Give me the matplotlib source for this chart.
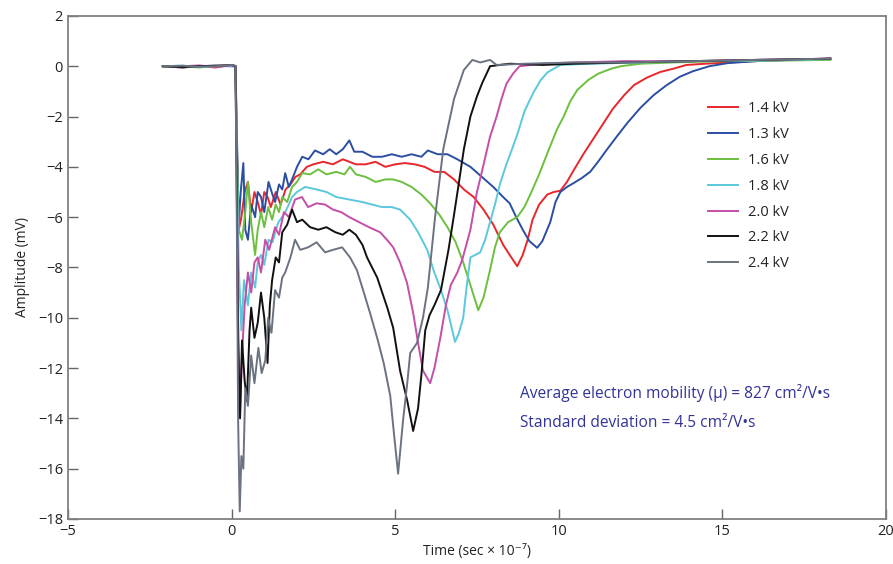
import matplotlib
matplotlib.use("Agg")
import matplotlib.pyplot as plt

plt.rcParams['font.family'] = ['Open Sans', 'DejaVu Sans']

labels = ["1.4 kV", "1.3 kV", "1.6 kV", "1.8 kV", "2.0 kV", "2.2 kV", "2.4 kV"]
colors = ["#e8262b", "#2b4ea2", "#6cbf3f", "#5bc8dc", "#c44ea8", "#111111", "#6b7280"]

kv14 = [(-2.1,0.0),(-1.5,-0.05),(-1.0,0.0),(-0.5,-0.05),(0.0,0.05),(0.12,0.0),(0.16,-3.0),(0.22,-6.5),(0.3,-6.0),(0.4,-5.0),(0.5,-4.6),(0.6,-5.8),(0.7,-5.0),(0.8,-5.4),(0.9,-5.9),(1.0,-5.0),(1.1,-5.2),(1.2,-5.6),(1.35,-5.0),(1.5,-5.5),(1.65,-4.9),(1.8,-4.7),(1.95,-4.4),(2.1,-4.3),(2.3,-4.0),(2.5,-3.9),(2.8,-3.8),(3.1,-3.9),(3.4,-3.7),(3.6,-3.8),(3.8,-3.9),(4.1,-3.9),(4.4,-3.8),(4.7,-4.0),(5.0,-3.9),(5.3,-3.85),(5.6,-3.9),(5.9,-4.0),(6.2,-4.2),(6.5,-4.2),(6.8,-4.5),(7.1,-4.9),(7.4,-5.2),(7.7,-5.7),(8.0,-6.3),(8.3,-7.1),(8.55,-7.6),(8.73,-7.95),(8.9,-7.5),(9.05,-6.9),(9.2,-6.1),(9.4,-5.5),(9.65,-5.1),(9.85,-5.0),(10.05,-4.95),(10.25,-4.6),(10.45,-4.15),(10.75,-3.5),(11.05,-2.9),(11.35,-2.3),(11.65,-1.7),(12.0,-1.15),(12.3,-0.75),(12.7,-0.45),(13.1,-0.23),(13.5,-0.1),(13.9,0.05),(14.5,0.1),(15.2,0.15),(16.0,0.2),(17.0,0.25),(18.3,0.3)]

kv13 = [(-2.1,0.0),(-1.5,-0.05),(-1.0,0.0),(-0.5,0.02),(0.0,0.0),(0.12,0.0),(0.16,-2.5),(0.22,-6.3),(0.28,-5.0),(0.36,-3.85),(0.42,-6.5),(0.5,-6.9),(0.6,-5.5),(0.72,-6.0),(0.8,-5.0),(0.9,-5.2),(1.0,-5.8),(1.13,-4.6),(1.25,-5.1),(1.33,-5.4),(1.45,-4.7),(1.55,-4.9),(1.64,-4.25),(1.75,-4.8),(1.85,-4.5),(2.0,-4.0),(2.16,-3.6),(2.35,-3.7),(2.55,-3.35),(2.8,-3.5),(3.0,-3.3),(3.2,-3.5),(3.4,-3.3),(3.6,-2.95),(3.75,-3.4),(4.0,-3.4),(4.3,-3.6),(4.6,-3.6),(4.9,-3.5),(5.2,-3.6),(5.5,-3.5),(5.8,-3.6),(6.0,-3.35),(6.3,-3.5),(6.6,-3.5),(6.9,-3.7),(7.3,-4.0),(7.65,-4.4),(8.0,-4.8),(8.3,-5.2),(8.5,-5.45),(8.7,-6.0),(8.9,-6.5),(9.1,-6.95),(9.34,-7.22),(9.5,-6.95),(9.74,-6.2),(9.9,-5.4),(10.05,-5.0),(10.25,-4.8),(10.45,-4.65),(10.7,-4.45),(10.96,-4.2),(11.2,-3.8),(11.48,-3.3),(11.8,-2.75),(12.1,-2.25),(12.5,-1.65),(12.9,-1.15),(13.3,-0.75),(13.7,-0.42),(14.1,-0.2),(14.6,0.0),(15.15,0.12),(16.0,0.2),(17.0,0.25),(18.3,0.3)]

kv16 = [(-2.1,-0.02),(-1.5,0.0),(-1.0,-0.05),(-0.5,0.0),(0.0,0.02),(0.12,0.0),(0.16,-3.0),(0.22,-6.5),(0.32,-6.9),(0.42,-5.8),(0.5,-4.6),(0.6,-6.2),(0.72,-7.5),(0.8,-6.5),(0.9,-5.8),(1.0,-6.4),(1.12,-5.6),(1.24,-6.1),(1.35,-5.5),(1.45,-5.8),(1.55,-5.2),(1.7,-5.4),(1.85,-4.8),(2.0,-4.6),(2.16,-4.25),(2.4,-4.3),(2.65,-4.1),(2.9,-4.3),(3.2,-4.2),(3.45,-4.3),(3.62,-4.0),(3.8,-4.3),(4.1,-4.4),(4.4,-4.6),(4.7,-4.5),(4.94,-4.5),(5.2,-4.6),(5.5,-4.8),(5.8,-5.1),(6.07,-5.45),(6.35,-5.9),(6.6,-6.4),(6.85,-7.0),(7.08,-7.8),(7.3,-8.7),(7.54,-9.7),(7.7,-9.2),(7.9,-8.1),(8.05,-7.2),(8.2,-6.6),(8.45,-6.2),(8.73,-6.0),(8.95,-5.6),(9.13,-5.1),(9.4,-4.3),(9.7,-3.3),(9.95,-2.5),(10.15,-2.0),(10.35,-1.4),(10.57,-0.94),(10.9,-0.55),(11.2,-0.3),(11.6,-0.1),(11.9,0.0),(12.5,0.1),(13.5,0.15),(15.0,0.2),(16.5,0.22),(18.3,0.25)]

kv18 = [(-2.1,0.0),(-1.5,0.02),(-1.0,-0.03),(-0.5,0.0),(0.0,0.0),(0.12,0.0),(0.16,-3.5),(0.22,-8.0),(0.3,-10.5),(0.38,-8.5),(0.5,-9.5),(0.6,-8.2),(0.72,-8.8),(0.8,-7.8),(0.9,-7.5),(1.0,-7.9),(1.13,-6.9),(1.25,-7.0),(1.43,-6.2),(1.6,-5.9),(1.75,-5.5),(1.85,-5.2),(2.0,-5.0),(2.25,-4.8),(2.6,-4.9),(2.9,-5.0),(3.2,-5.2),(3.6,-5.3),(4.0,-5.4),(4.3,-5.5),(4.6,-5.6),(4.9,-5.6),(5.15,-5.7),(5.46,-6.1),(5.7,-6.6),(5.98,-7.3),(6.17,-8.1),(6.4,-8.9),(6.6,-9.7),(6.83,-10.96),(6.95,-10.6),(7.08,-10.0),(7.2,-8.6),(7.3,-7.6),(7.6,-7.4),(7.75,-6.9),(7.9,-6.2),(8.05,-5.5),(8.2,-4.7),(8.4,-3.9),(8.6,-3.2),(8.75,-2.65),(8.95,-1.8),(9.22,-1.06),(9.45,-0.55),(9.65,-0.25),(10.05,0.05),(11.0,0.1),(12.5,0.15),(14.0,0.2),(16.0,0.22),(18.3,0.28)]

kv20 = [(-2.1,0.0),(-1.5,0.0),(-1.0,0.03),(-0.5,-0.02),(0.0,0.03),(0.12,0.0),(0.16,-4.0),(0.2,-10.0),(0.26,-13.8),(0.32,-11.5),(0.4,-9.5),(0.5,-8.2),(0.6,-9.0),(0.7,-7.8),(0.8,-7.6),(0.9,-8.2),(1.03,-6.9),(1.15,-7.3),(1.33,-6.4),(1.45,-6.7),(1.6,-5.8),(1.75,-6.0),(1.94,-5.3),(2.15,-5.2),(2.34,-5.6),(2.6,-5.45),(2.86,-5.5),(3.1,-5.7),(3.35,-5.8),(3.6,-6.0),(3.9,-6.2),(4.2,-6.4),(4.54,-6.6),(4.75,-6.9),(4.94,-7.2),(5.15,-7.8),(5.36,-8.6),(5.55,-9.8),(5.7,-11.0),(5.85,-12.1),(6.07,-12.6),(6.2,-12.0),(6.38,-10.8),(6.55,-9.5),(6.7,-8.7),(6.9,-8.2),(7.05,-7.7),(7.3,-6.5),(7.5,-5.0),(7.65,-4.2),(7.9,-2.8),(8.1,-2.0),(8.25,-1.3),(8.4,-0.7),(8.6,-0.3),(8.8,0.0),(9.5,0.1),(10.5,0.15),(12.0,0.2),(14.0,0.2),(16.0,0.25),(18.3,0.3)]

kv22 = [(-2.1,0.0),(-1.5,-0.03),(-1.0,0.0),(-0.5,0.02),(0.0,0.05),(0.12,0.0),(0.16,-5.0),(0.2,-11.0),(0.26,-14.0),(0.32,-10.9),(0.4,-12.5),(0.47,-13.3),(0.55,-10.5),(0.6,-9.6),(0.7,-10.8),(0.8,-10.2),(0.9,-9.0),(1.0,-10.0),(1.1,-11.8),(1.17,-9.5),(1.24,-8.5),(1.35,-7.6),(1.45,-7.8),(1.55,-6.6),(1.7,-6.3),(1.85,-5.7),(2.0,-6.2),(2.16,-6.1),(2.4,-6.4),(2.65,-6.5),(2.9,-6.4),(3.17,-6.6),(3.4,-6.7),(3.6,-6.5),(3.8,-6.7),(4.0,-7.1),(4.14,-7.6),(4.45,-8.4),(4.76,-9.6),(4.94,-10.4),(5.15,-12.1),(5.37,-13.3),(5.55,-14.5),(5.7,-13.6),(5.8,-12.3),(5.92,-10.5),(6.05,-9.9),(6.2,-9.5),(6.4,-8.9),(6.63,-7.3),(6.8,-5.9),(6.94,-4.7),(7.1,-3.3),(7.3,-2.0),(7.5,-1.2),(7.66,-0.67),(7.9,0.0),(8.5,0.1),(9.5,0.05),(10.5,0.1),(12.0,0.15),(14.0,0.2),(16.0,0.25),(18.3,0.3)]

kv24 = [(-2.1,0.0),(-1.5,0.02),(-1.0,-0.02),(-0.5,0.0),(0.0,0.05),(0.12,0.02),(0.16,-6.0),(0.2,-14.0),(0.25,-17.7),(0.3,-15.5),(0.36,-16.0),(0.42,-12.8),(0.5,-13.5),(0.6,-11.5),(0.7,-12.6),(0.82,-11.2),(0.92,-12.2),(1.03,-11.7),(1.12,-10.0),(1.22,-10.6),(1.33,-8.9),(1.45,-9.2),(1.55,-8.4),(1.64,-8.2),(1.8,-7.6),(1.94,-6.9),(2.1,-7.3),(2.34,-7.2),(2.6,-7.0),(2.86,-7.4),(3.1,-7.3),(3.38,-7.2),(3.62,-7.6),(3.83,-8.1),(4.02,-8.9),(4.23,-9.8),(4.45,-10.8),(4.65,-11.8),(4.85,-13.1),(4.94,-14.3),(5.09,-16.2),(5.24,-14.1),(5.37,-12.6),(5.46,-11.4),(5.67,-11.0),(5.85,-10.0),(6.0,-8.8),(6.22,-6.0),(6.47,-3.3),(6.8,-1.3),(7.1,-0.15),(7.36,0.25),(7.6,0.15),(7.9,0.25),(8.1,0.05),(9.0,0.1),(10.5,0.15),(12.0,0.15),(14.0,0.2),(16.0,0.25),(18.3,0.3)]

series = [kv14, kv13, kv16, kv18, kv20, kv22, kv24]

x_ticks = [-5, 0, 5, 10, 15, 20]
y_ticks = [-18, -16, -14, -12, -10, -8, -6, -4, -2, 0, 2]

fig = plt.figure(figsize=(8.93, 5.64), dpi=100)
ax = fig.add_axes([0.0761, 0.0798, 0.916, 0.892])

for pts, lab, col in zip(series, labels, colors):
    xs = [p[0] for p in pts]
    ys = [p[1] for p in pts]
    ax.plot(xs, ys, color=col, lw=1.4, label=lab)

ax.set_xlim(-5, 20)
ax.set_ylim(-18, 2)
ax.set_xticks(x_ticks)
ax.set_yticks(y_ticks)
ax.tick_params(direction='in', length=7, width=1, colors='#666666', labelcolor='#222222',
               labelsize=10.5, top=False, right=False)
for s in ax.spines.values():
    s.set_color('#808080')
    s.set_linewidth(1.3)

ax.set_xlabel("Time (sec × 10⁻⁷)", fontsize=10, color='#222222', labelpad=4)
ax.set_ylabel("Amplitude (mV)", fontsize=10, color='#222222', labelpad=6)

leg = ax.legend(loc='upper left', bbox_to_anchor=(0.766, 0.856), frameon=False,
                fontsize=10.5, handlelength=2.1, labelspacing=0.74, handletextpad=0.7)
for t in leg.get_texts():
    t.set_color('#222222')

ax.text(8.82, -13.0, "Average electron mobility (μ) = 827 cm²/V•s", color='#333399',
        fontsize=11.2, va='center', ha='left')
ax.text(8.82, -14.2, "Standard deviation = 4.5 cm²/V•s", color='#333399',
        fontsize=11.2, va='center', ha='left')

fig.savefig("out.png", dpi=100)
